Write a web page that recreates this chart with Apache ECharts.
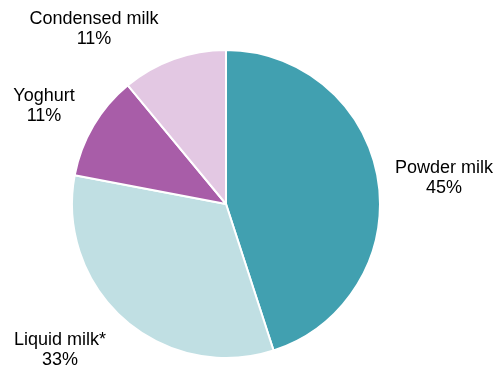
<!DOCTYPE html>
<html><head><meta charset="utf-8">
<script src="https://cdn.jsdelivr.net/npm/echarts@6/dist/echarts.min.js"></script>
<style>html,body{margin:0;padding:0;background:#fff}#c{width:495px;height:372px}</style>
</head><body><div id="c"></div>
<script>
var categories = ['Powder milk', 'Liquid milk*', 'Yoghurt', 'Condensed milk'];
var values = [45, 33, 11, 11];
var colors = ['#41A0B0', '#C0DFE3', '#A85DA8', '#E3C8E3'];
var labelPos = [[444, 178], [60, 350], [44, 106], [94, 29]];

var chart = echarts.init(document.getElementById('c'), null, {renderer: 'canvas'});
chart.setOption({
  animation: false,
  series: [{
    type: 'pie',
    center: [226, 204],
    radius: [0, 154],
    startAngle: 90,
    clockwise: true,
    data: categories.map(function (n, i) {
      return {name: n, value: values[i], itemStyle: {color: colors[i]}};
    }),
    itemStyle: {borderColor: '#fff', borderWidth: 2},
    label: {
      show: true,
      position: 'outside',
      formatter: '{b}\n{c}%',
      fontFamily: 'Liberation Sans, Arial, sans-serif',
      fontSize: 18,
      lineHeight: 20,
      color: '#000',
      align: 'center',
      overflow: 'none'
    },
    labelLine: {show: false},
    labelLayout: function (p) {
      var pos = labelPos[p.dataIndex];
      return {x: pos[0], y: pos[1], align: 'center', verticalAlign: 'middle'};
    },
    emphasis: {disabled: true}
  }]
});
</script></body></html>
